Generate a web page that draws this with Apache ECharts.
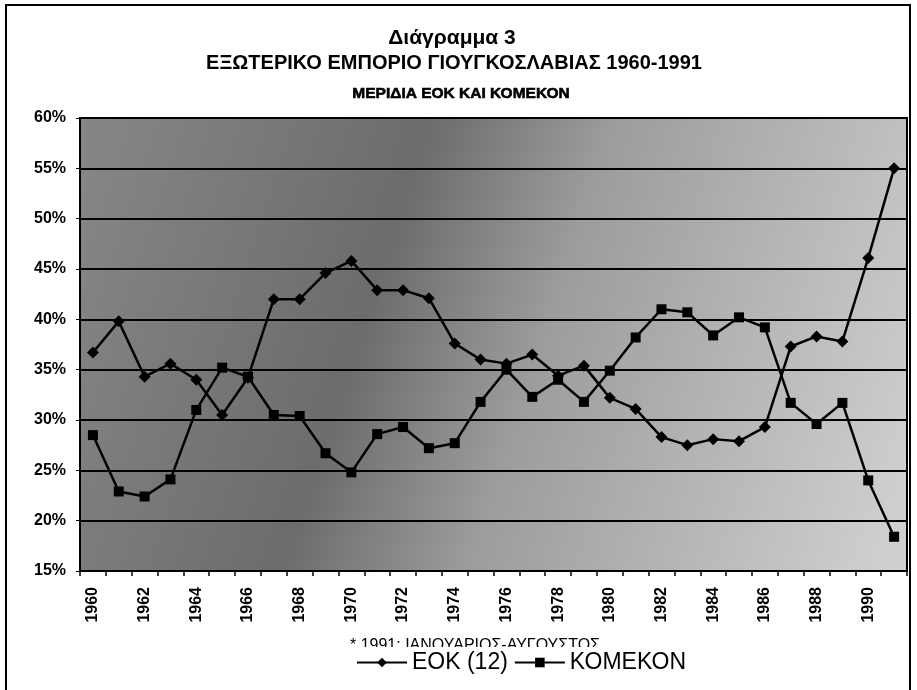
<!DOCTYPE html>
<html>
<head>
<meta charset="utf-8">
<script src="https://cdn.jsdelivr.net/npm/echarts@6/dist/echarts.min.js"></script>
<style>
	html,body{margin:0;padding:0;background:#fff;}
	#chart{width:917px;height:690px;}
</style>
</head>
<body>
<div id="chart"></div>
<script>
	// years on the x axis
	var years = [];
	for (var y = 1960; y <= 1991; y++) { years.push(String(y)); }
	// shares in %
	var eokData = [36.7, 39.8, 34.3, 35.6, 34.0, 30.5, 34.2, 42.0, 42.0, 44.6, 45.8, 42.9, 42.9, 42.1, 37.6, 36.0,
		35.6, 36.5, 34.4, 35.4, 32.2, 31.1, 28.3, 27.5, 28.1, 27.9, 29.3, 37.3, 38.3, 37.8, 46.1, 55.0];
	var komekonData = [28.5, 22.9, 22.4, 24.1, 31.0, 35.2, 34.3, 30.5, 30.4, 26.7, 24.8, 28.6, 29.3, 27.2, 27.7, 31.8,
		35.0, 32.3, 34.0, 31.8, 34.9, 38.2, 41.0, 40.7, 38.4, 40.2, 39.2, 31.7, 29.6, 31.7, 24.0, 18.4];
	var seriesNames = ['ΕΟΚ (12)', 'ΚΟΜΕΚΟΝ'];
	var titleLines = ['Διάγραμμα 3', 'ΕΞΩΤΕΡΙΚΟ ΕΜΠΟΡΙΟ ΓΙΟΥΓΚΟΣΛΑΒΙΑΣ 1960-1991', 'ΜΕΡΙΔΙΑ ΕΟΚ ΚΑΙ ΚΟΜΕΚΟΝ'];
	var footNote = '* 1991: ΙΑΝΟΥΑΡΙΟΣ-ΑΥΓΟΥΣΤΟΣ';

	var narrow = "'Liberation Sans Narrow', 'Liberation Sans', Arial, sans-serif";
	var sans = "'Liberation Sans', Arial, sans-serif";

	var mychart = echarts.init(document.getElementById('chart'));
	var option = {
		animation: false,
		backgroundColor: '#fff',
		title: [
			{text: titleLines[0], left: 447, top: 23, textAlign: 'center',
				textStyle: {fontFamily: narrow, fontSize: 21, fontWeight: 'bold', color: '#000'}},
			{text: titleLines[1], left: 449, top: 48, textAlign: 'center',
				textStyle: {fontFamily: narrow, fontSize: 20, fontWeight: 'bold', color: '#000'}},
			{text: titleLines[2], left: 456, top: 81, textAlign: 'center',
				textStyle: {fontFamily: sans, fontSize: 15.5, fontWeight: 'bold', color: '#000',
					textBorderColor: '#000', textBorderWidth: 0.6}}
		],
		graphic: [
			{
				type: 'rect', z: 0,
				shape: {x: 6, y: 5, width: 904, height: 700},
				style: {fill: 'none', stroke: '#000', lineWidth: 2}
			},
			{
				// footnote, half hidden behind the legend as in the original
				type: 'text', z: 1, left: 350, top: 638,
				style: {text: footNote, font: "16px " + narrow, fill: '#000'}
			}
		],
		legend: {
			left: 352, top: 647,
			itemWidth: 50, itemHeight: 12, itemGap: 6,
			backgroundColor: '#fff',
			padding: [4, 4, 6, 4],
			textStyle: {fontFamily: narrow, fontSize: 23, color: '#000'},
			data: seriesNames
		},
		grid: {
			left: 80, right: 10, top: 118, bottom: 119,
			show: true,
			borderColor: '#000', borderWidth: 2,
			backgroundColor: new echarts.graphic.LinearGradient(0, 0.2, 1, 0.8, [
				{offset: 0, color: '#858585'},
				{offset: 0.35, color: '#6c6c6c'},
				{offset: 0.55, color: '#9c9c9c'},
				{offset: 1, color: '#cfcfcf'}
			])
		},
		xAxis: {
			type: 'category',
			data: years,
			boundaryGap: true,
			axisLine: {lineStyle: {color: '#000', width: 2}},
			axisTick: {show: true, inside: false, length: 5, lineStyle: {color: '#000', width: 1.5}, interval: 0},
			axisLabel: {
				interval: 1, rotate: 90, margin: 16,
				fontFamily: sans, fontSize: 16, fontWeight: 'bold', color: '#000'
			}
		},
		yAxis: {
			type: 'value',
			min: 15, max: 60, interval: 5,
			axisLine: {show: true, lineStyle: {color: '#000', width: 2}},
			axisTick: {show: true, length: 4, lineStyle: {color: '#000'}},
			axisLabel: {
				formatter: '{value}%', margin: 14,
				fontFamily: sans, fontSize: 16, fontWeight: 'bold', color: '#000'
			},
			splitLine: {show: true, lineStyle: {color: '#000', width: 2}}
		},
		series: [
			{
				name: seriesNames[0], type: 'line', data: eokData,
				symbol: 'diamond', symbolSize: 12,
				lineStyle: {color: '#000', width: 2.5},
				itemStyle: {color: '#000'}
			},
			{
				name: seriesNames[1], type: 'line', data: komekonData,
				symbol: 'rect', symbolSize: 10,
				lineStyle: {color: '#000', width: 2.5},
				itemStyle: {color: '#000'}
			}
		]
	};
	mychart.setOption(option);
</script>
</body>
</html>
